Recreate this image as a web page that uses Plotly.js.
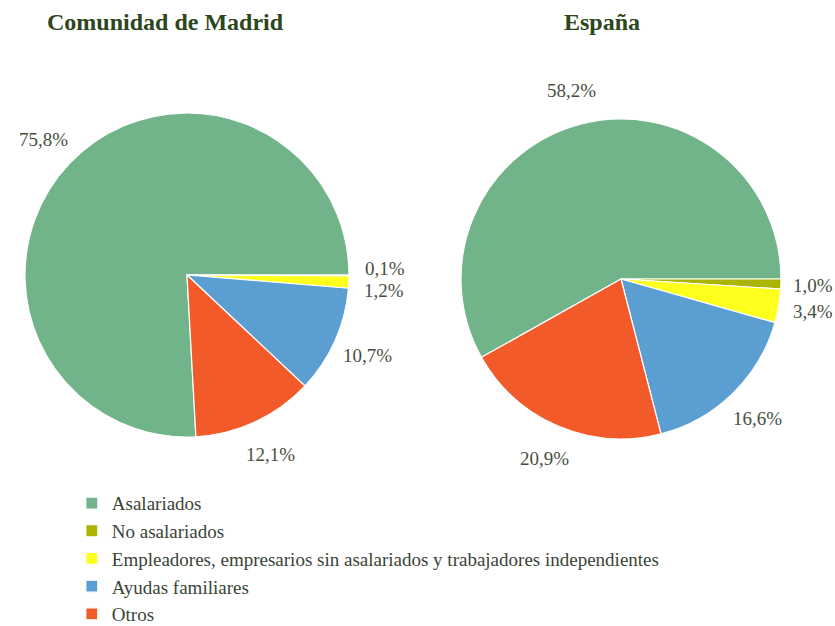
<!DOCTYPE html>
<html><head><meta charset="utf-8">
<script src="https://cdn.plot.ly/plotly-3.0.1.min.js"></script>
<style>html,body{margin:0;padding:0;background:#fff}#chart{width:835px;height:626px}</style>
</head><body><div id="chart"></div>
<script>
const categories = ["Asalariados", "No asalariados", "Empleadores, empresarios sin asalariados y trabajadores independientes", "Ayudas familiares", "Otros"];
const madridValues = [75.8, 0.1, 1.2, 10.7, 12.1];
const espanaValues = [58.2, 1.0, 3.4, 16.6, 20.9];
const titles = ["Comunidad de Madrid", "España"];
const colors = ["#72b48a", "#a9b500", "#ffff1e", "#5b9fd2", "#f25a2a"];

const W = 835, H = 626;
const SERIF = '"Liberation Serif", "Times New Roman", serif';
// pie placement in pixels: center, radius, title centre x
const pies = [
  {vals: madridValues, cx: 187, cy: 275, r: 162, tx: 165, title: titles[0]},
  {vals: espanaValues, cx: 621, cy: 279, r: 160, tx: 602, title: titles[1]}
];

function rot(vals){ const s = vals.reduce((a,b)=>a+b,0); return 90 - 360*vals[0]/s; }
function fmt(v){ return v.toFixed(1).replace('.', ',') + '%'; }

const data = [];
const annotations = [];
pies.forEach(p => {
  const rotation = rot(p.vals);
  data.push({type:'pie', labels:categories, values:p.vals, sort:false, direction:'clockwise',
    rotation: rotation,
    domain:{x:[(p.cx-p.r)/W, (p.cx+p.r)/W], y:[1-(p.cy+p.r)/H, 1-(p.cy-p.r)/H]},
    marker:{colors:colors, line:{color:'#ffffff', width:1.2}},
    textinfo:'none', hoverinfo:'label+value'});
  // label positions from slice mid-angles
  const sum = p.vals.reduce((a,b)=>a+b,0);
  let acc = rotation;
  const labs = p.vals.map(v => {
    const span = 360*v/sum;
    const mid = (acc + span/2) * Math.PI/180;
    acc += span;
    const d = 1.22*p.r;
    return {v, x: p.cx + d*Math.sin(mid), y: p.cy - d*Math.cos(mid)};
  });
  // simple vertical collision avoidance among consecutive labels on the same side
  for (let i = 1; i < labs.length; i++) {
    const a = labs[i-1], b = labs[i];
    if (Math.abs(a.x - b.x) < 60 && Math.abs(a.y - b.y) < 22) {
      const push = (22 - Math.abs(b.y - a.y))/2;
      if (b.y >= a.y) { a.y -= push; b.y += push; } else { a.y += push; b.y -= push; }
    }
  }
  labs.forEach(l => {
    const half = fmt(l.v).length * 5;
    const x = Math.min(l.x, W - half - 2);
    annotations.push({text: fmt(l.v), x: x/W, y: 1 - l.y/H, xref:'paper', yref:'paper',
      xanchor:'center', yanchor:'middle', showarrow:false,
      font:{family:SERIF, size:19, color:'#46503e'}});
  });
  annotations.push({text:p.title, x:p.tx/W, y:1-22/H, xref:'paper', yref:'paper',
    xanchor:'center', yanchor:'middle', showarrow:false,
    font:{family:SERIF, size:24, color:'#2c4620', weight:'bold'}});
});

const layout = {
  width:W, height:H, margin:{l:0,r:0,t:0,b:0, autoexpand:false}, separators:',.',
  paper_bgcolor:'#fff', showlegend:true, font:{family:SERIF},
  legend:{x:0.086, y:0.2265, xanchor:'left', yanchor:'top', traceorder:'normal', bgcolor:'rgba(0,0,0,0)',
    font:{family:SERIF, size:19, color:'#3a4436'}, tracegroupgap:0, itemwidth:30},
  annotations: annotations
};
Plotly.newPlot('chart', data, layout, {displayModeBar:false});
</script></body></html>
